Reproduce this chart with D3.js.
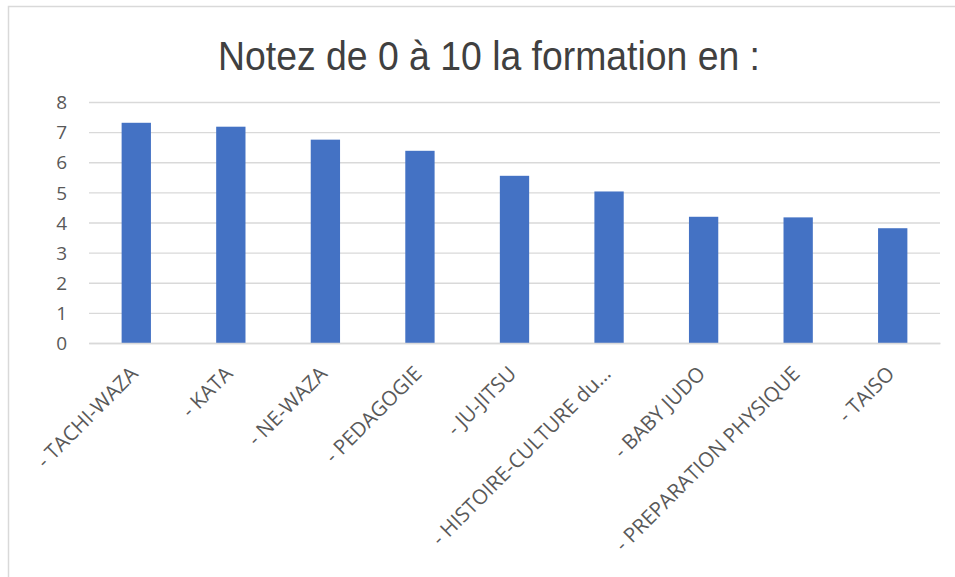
<!DOCTYPE html>
<html>
<head>
<meta charset="utf-8">
<script src="https://cdn.jsdelivr.net/npm/d3@7"></script>
<style>
  body { margin: 0; background: #fff; }
  .tick text { font-family: "Open Sans", "Noto Sans", sans-serif; fill: #595959; }
</style>
</head>
<body>
<div id="chart"></div>
<script>
const categories = ["- TACHI-WAZA", "- KATA", "- NE-WAZA", "- PEDAGOGIE", "- JU-JITSU",
  "- HISTOIRE-CULTURE du…", "- BABY JUDO", "- PREPARATION PHYSIQUE", "- TAISO"];
const values = [7.31, 7.18, 6.75, 6.38, 5.55, 5.03, 4.19, 4.17, 3.81];
const yTicks = [0, 1, 2, 3, 4, 5, 6, 7, 8];
const title = "Notez de 0 à 10 la formation en :";

const W = 955, H = 577;
const margin = { top: 102, right: 15, bottom: 234, left: 89 };
const width = W - margin.left - margin.right;
const height = H - margin.top - margin.bottom;

const root = d3.select("#chart").append("svg")
  .attr("width", W)
  .attr("height", H);

// chart frame
root.append("rect")
  .attr("x", 8.5).attr("y", 6.5)
  .attr("width", 970).attr("height", 600)
  .attr("fill", "#fff")
  .attr("stroke", "#d9d9d9")
  .attr("stroke-width", 1.5);

root.append("text")
  .attr("x", 489)
  .attr("y", 70)
  .attr("text-anchor", "middle")
  .attr("font-family", "'Liberation Sans', Arial, sans-serif")
  .attr("font-size", 41)
  .attr("fill", "#404040")
  .attr("textLength", 542)
  .attr("lengthAdjust", "spacingAndGlyphs")
  .text(title);

const svg = root.append("g")
  .attr("transform", `translate(${margin.left}, ${margin.top})`);

const x = d3.scaleBand()
  .domain(categories)
  .range([0, width])
  .paddingInner(0.69)
  .paddingOuter(0.345);

const y = d3.scaleLinear()
  .domain([0, 8])
  .range([height, 0]);

// gridlines
svg.append("g")
  .call(d3.axisLeft(y).tickValues(yTicks).tickSize(-width).tickFormat(""))
  .call(g => g.select(".domain").remove())
  .call(g => g.selectAll("line").attr("stroke", "#d9d9d9").attr("stroke-width", 1.3));

// y labels
svg.append("g")
  .attr("transform", "translate(-22, 0)")
  .call(d3.axisLeft(y).tickValues(yTicks).tickSize(0).tickPadding(0))
  .call(g => g.select(".domain").remove())
  .call(g => g.selectAll("text").attr("font-size", 19).attr("dy", "0.35em"));

svg.append("g")
  .selectAll("rect")
  .data(values)
  .join("rect")
  .attr("x", (d, i) => x(categories[i]))
  .attr("y", d => y(d))
  .attr("width", x.bandwidth())
  .attr("height", d => height - y(d))
  .attr("fill", "#4472c4");

// x axis
svg.append("g")
  .attr("transform", `translate(0, ${height})`)
  .call(d3.axisBottom(x).tickSize(0).tickPadding(0))
  .call(g => g.select(".domain").attr("stroke", "#d9d9d9").attr("stroke-width", 1.3))
  .call(g => g.selectAll("text")
    .attr("font-size", 20.5)
    .attr("text-anchor", "end")
    .attr("dy", null)
    .attr("y", 0)
    .attr("transform", "translate(3, 32) rotate(-45)"));
</script>
</body>
</html>
